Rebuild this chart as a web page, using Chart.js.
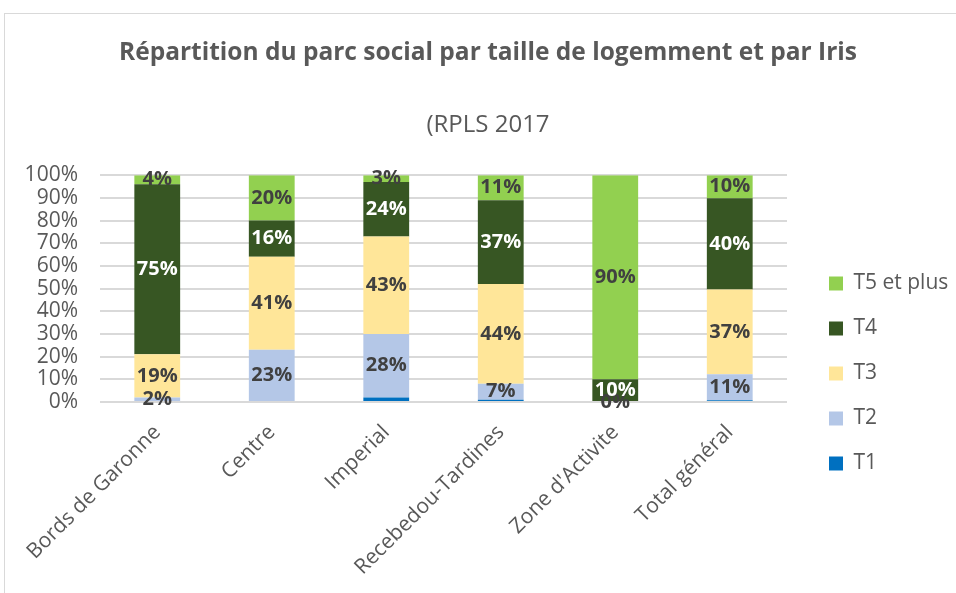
<!DOCTYPE html>
<html lang="fr">
<head>
<meta charset="utf-8">
<title>Répartition du parc social</title>
<script src="https://cdn.jsdelivr.net/npm/chart.js@4.4.0/dist/chart.umd.min.js"></script>
<style>
  html, body { margin: 0; padding: 0; background: #fff; overflow: hidden; }
  #frame { position: absolute; left: 4px; top: 13px; width: 1000px; height: 700px;
           border-left: 1px solid #d9d9d9; border-top: 1px solid #d9d9d9; }
  #chart { position: absolute; left: 0; top: 0; }
</style>
</head>
<body>
<div id="frame"></div>
<canvas id="chart" width="956" height="593"></canvas>
<script>
// parc social (RPLS 2017), share of each dwelling size per Iris, in %
const iris = ["Bords de Garonne", "Centre", "Imperial", "Recebedou-Tardines", "Zone d'Activite", "Total général"];
const t1 = [0, 0, 2, 1, 0, 0.8];
const t2 = [2, 23, 28, 7, 0, 11.4];
const t3 = [19, 41, 43, 44, null, 37.4];
const t4 = [75, 16, 24, 37, 10, 40.2];
const t5 = [4, 20, 3, 11, 90, 10.2];
const pctTicks = ["0%", "10%", "20%", "30%", "40%", "50%", "60%", "70%", "80%", "90%", "100%"];

const FONT = "'Open Sans', Lato, sans-serif";
const GREY = "#595959";

// percentage written in the middle of each stacked segment
const segmentLabels = {
  id: "segmentLabels",
  afterDatasetsDraw(chart) {
    const ctx = chart.ctx;
    ctx.save();
    ctx.font = "bold 20px " + FONT;
    ctx.textAlign = "center";
    ctx.textBaseline = "middle";
    chart.data.datasets.forEach((ds, i) => {
      if (!ds.labelColor) return;
      chart.getDatasetMeta(i).data.forEach((bar, j) => {
        const v = ds.data[j];
        if (v === null || v === undefined) return;
        const p = bar.getProps(["x", "y", "base"], true);
        ctx.fillStyle = ds.labelColor;
        ctx.fillText(Math.round(v) + "%", p.x, (p.y + p.base) / 2);
      });
    });
    ctx.restore();
  }
};

// legend column: reserve a fixed strip on the right, then sit it level with the plot
const LEGEND_W = 169;
const legendNudge = {
  id: "legendNudge",
  beforeLayout(chart) {
    const lg = chart.legend;
    if (lg && !lg._fixedWidth) {
      const fit = lg.fit;
      lg.fit = function () { fit.call(this); this.width = LEGEND_W; };
      lg._fixedWidth = true;
    }
  },
  afterLayout(chart) {
    const lg = chart.legend;
    lg.left += 18; lg.right += 18;
    lg.top += 77; lg.bottom += 77;
  }
};

new Chart(document.getElementById("chart"), {
  type: "bar",
  data: {
    labels: iris,
    datasets: [
      { label: "T1", data: t1, backgroundColor: "#0070c0" },
      { label: "T2", data: t2, backgroundColor: "#b4c7e7", labelColor: "#404040" },
      { label: "T3", data: t3, backgroundColor: "#ffe699", labelColor: "#404040" },
      { label: "T4", data: t4, backgroundColor: "#375623", labelColor: "#ffffff" },
      { label: "T5 et plus", data: t5, backgroundColor: "#92d050", labelColor: "#404040" }
    ]
  },
  options: {
    responsive: false,
    animation: false,
    barPercentage: 0.4,
    categoryPercentage: 1.0,
    layout: { padding: { left: 20, right: 0, top: 0, bottom: 0 } },
    scales: {
      x: {
        stacked: true,
        grid: { display: false },
        border: { display: false },
        ticks: { color: GREY, font: { family: FONT, size: 21 }, minRotation: 45, maxRotation: 45, padding: 10 },
        afterFit(scale) { scale.height = 191; }
      },
      y: {
        stacked: true,
        min: 0,
        max: 100,
        grid: { color: "#d9d9d9", lineWidth: 2, drawTicks: false },
        border: { display: false },
        ticks: {
          stepSize: 10,
          autoSkip: false,
          padding: 22,
          color: GREY,
          font: { family: FONT, size: 21 },
          callback: (v, i) => pctTicks[i]
        },
        afterFit(scale) { scale.width = 80; }
      }
    },
    plugins: {
      title: {
        display: true,
        text: "Répartition du parc social par taille de logemment et par Iris",
        color: GREY,
        font: { family: FONT, size: 24.5, weight: "bold" },
        padding: { top: 38, bottom: 0 }
      },
      subtitle: {
        display: true,
        text: "(RPLS 2017",
        color: GREY,
        font: { family: FONT, size: 24, weight: "normal" },
        padding: { top: 43, bottom: 36 }
      },
      legend: {
        position: "right",
        reverse: true,
        labels: { color: GREY, font: { family: FONT, size: 21 }, boxWidth: 14, boxHeight: 14, padding: 24 }
      },
      tooltip: { enabled: false }
    }
  },
  plugins: [segmentLabels, legendNudge]
});
</script>
</body>
</html>
